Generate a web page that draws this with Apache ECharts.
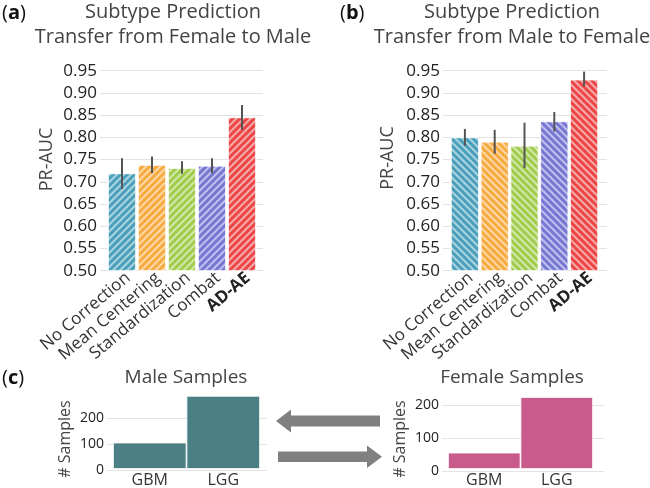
<!DOCTYPE html>
<html><head><meta charset="utf-8">
<script src="https://cdn.jsdelivr.net/npm/echarts@6/dist/echarts.min.js"></script>
<style>html,body{margin:0;padding:0;background:#fff}#c{width:650px;height:488px}</style>
</head><body><div id="c"></div>
<script>
// ---- data ----
const methods = ['No Correction', 'Mean Centering', 'Standardization', 'Combat', 'AD-AE'];
const aucFemaleToMale = [0.719, 0.738, 0.731, 0.736, 0.845];
const lowFemaleToMale = [0.684, 0.719, 0.718, 0.719, 0.817];
const highFemaleToMale = [0.753, 0.757, 0.746, 0.753, 0.873];
const aucMaleToFemale = [0.800, 0.790, 0.781, 0.836, 0.930];
const lowMaleToFemale = [0.781, 0.763, 0.731, 0.813, 0.915];
const highMaleToFemale = [0.819, 0.817, 0.833, 0.857, 0.948];
const subtypes = ['GBM', 'LGG'];
const maleCounts = [103, 285];
const femaleCounts = [51, 224];

// ---- styles ----
const methodColors = ['#4aa0ba', '#f7aa3f', '#a0cc4c', '#7676d4', '#ec4646'];
const FONT = '"Open Sans", "Noto Sans", sans-serif';

const chart = echarts.init(document.getElementById('c'), null, {renderer: 'canvas'});

function hatch(rot) {
  return {symbol: 'rect', symbolSize: 1, dashArrayX: [1, 0], dashArrayY: [1.3, 2.4],
          rotation: rot, color: 'rgba(255,255,255,0.55)'};
}
function barData(vals) {
  return vals.map((v, i) => ({value: v, itemStyle: {color: methodColors[i]}}));
}
function errData(lo, hi) {
  return lo.map((l, i) => [i, l, hi[i]]);
}
const catLabels = methods.map((m, i) => i === methods.length - 1 ?
  {value: m, textStyle: {fontWeight: 'bold', color: '#222'}} : m);

function errSeries(xi, yi, lo, hi) {
  return {type: 'custom', xAxisIndex: xi, yAxisIndex: yi, data: errData(lo, hi),
    encode: {x: 0, y: [1, 2]}, z: 5,
    renderItem: (params, api) => {
      const p1 = api.coord([api.value(0), api.value(1)]);
      const p2 = api.coord([api.value(0), api.value(2)]);
      return {type: 'line', shape: {x1: p1[0], y1: p1[1], x2: p2[0], y2: p2[1]},
              style: {stroke: '#555', lineWidth: 2}};
    }};
}

const topT = 70.7, topB = 488 - 270.7;
const gridLineStyle = {lineStyle: {color: '#e3e3e3', width: 1}};

const grids = [
  {left: 100, right: 387, top: topT, bottom: topB},   // 0 a lines
  {left: 107, right: 393, top: topT, bottom: topB},   // 1 a bars
  {left: 443, right: 43, top: topT, bottom: topB},    // 2 b lines
  {left: 450, right: 51, top: topT, bottom: topB},    // 3 b bars
  {left: 107, right: 383, top: 418, bottom: 18},      // 4 male lines
  {left: 113, right: 390, top: 392, bottom: 18},      // 5 male bars
  {left: 442, right: 46, top: 405, bottom: 17},       // 6 female lines
  {left: 448, right: 57, top: 395.1, bottom: 17},     // 7 female bars
  {left: 113, right: 387, top: topT, bottom: topB},   // 8 a labels
  {left: 456, right: 45, top: topT, bottom: topB}     // 9 b labels
];

function lineY(gi, min, max, interval, fmt, fs) {
  return {gridIndex: gi, type: 'value', min: min, max: max, interval: interval,
    axisLine: {show: false}, axisTick: {show: false},
    axisLabel: {color: '#222', fontSize: fs, fontFamily: FONT, margin: 3, formatter: fmt},
    splitLine: gridLineStyle};
}
function hiddenY(gi, min, max) {
  return {gridIndex: gi, type: 'value', min: min, max: max, show: false, splitLine: {show: false}};
}
function hiddenX(gi, cats) {
  return {gridIndex: gi, type: 'category', data: cats, show: false};
}
function labelX(gi, cats, rot, fs, margin) {
  return {gridIndex: gi, type: 'category', data: cats,
    axisLine: {show: false}, axisTick: {show: false},
    axisLabel: {rotate: rot, color: '#333', fontSize: fs, fontFamily: FONT, margin: margin, interval: 0}};
}

const option = {
  animation: false,
  backgroundColor: '#fff',
  grid: grids,
  xAxis: [
    hiddenX(0, methods), hiddenX(1, methods),
    hiddenX(2, methods), hiddenX(3, methods),
    hiddenX(4, subtypes), labelX(5, subtypes, 0, 16, 3),
    hiddenX(6, subtypes), labelX(7, subtypes, 0, 16, 3),
    labelX(8, catLabels, 40, 17, 5), labelX(9, catLabels, 40, 17, 5)
  ],
  yAxis: [
    lineY(0, 0.5, 0.95, 0.05, v => v.toFixed(2), 17), hiddenY(1, 0.5, 0.95),
    lineY(2, 0.5, 0.95, 0.05, v => v.toFixed(2), 17), hiddenY(3, 0.5, 0.95),
    lineY(4, 0, 200, 100, v => String(v), 14), hiddenY(5, 0, 300),
    lineY(6, 0, 200, 100, v => String(v), 14), hiddenY(7, 0, 230),
    hiddenY(8, 0.5, 0.95), hiddenY(9, 0.5, 0.95)
  ],
  series: [
    {type: 'bar', xAxisIndex: 1, yAxisIndex: 1, data: barData(aucFemaleToMale), barWidth: 28,
     itemStyle: {borderColor: '#fff', borderWidth: 0.6, decal: hatch(-Math.PI / 4)}},
    errSeries(1, 1, lowFemaleToMale, highFemaleToMale),
    {type: 'bar', xAxisIndex: 3, yAxisIndex: 3, data: barData(aucMaleToFemale), barWidth: 28,
     itemStyle: {borderColor: '#fff', borderWidth: 0.6, decal: hatch(Math.PI / 4)}},
    errSeries(3, 3, lowMaleToFemale, highMaleToFemale),
    {type: 'bar', xAxisIndex: 5, yAxisIndex: 5, data: maleCounts, barCategoryGap: 0,
     itemStyle: {color: '#4a7f83', borderColor: '#fff', borderWidth: 0.8}},
    {type: 'bar', xAxisIndex: 7, yAxisIndex: 7, data: femaleCounts, barCategoryGap: 0,
     itemStyle: {color: '#c95b8c', borderColor: '#fff', borderWidth: 0.8}}
  ],
  graphic: [
    {type: 'text', style: {text: 'Subtype Prediction', x: 173, y: 12, textAlign: 'center', textVerticalAlign: 'middle', font: '20px ' + FONT, fill: '#444'}},
    {type: 'text', style: {text: 'Transfer from Female to Male', x: 173, y: 37, textAlign: 'center', textVerticalAlign: 'middle', font: '20px ' + FONT, fill: '#444'}},
    {type: 'text', style: {text: 'Subtype Prediction', x: 512, y: 12, textAlign: 'center', textVerticalAlign: 'middle', font: '20px ' + FONT, fill: '#444'}},
    {type: 'text', style: {text: 'Transfer from Male to Female', x: 512, y: 37, textAlign: 'center', textVerticalAlign: 'middle', font: '20px ' + FONT, fill: '#444'}},
    {type: 'text', x: 2, y: 13.5, style: {text: '{n|(}{b|a}{n|)}', textVerticalAlign: 'middle',
      rich: {n: {fontSize: 20, fontFamily: FONT, fill: '#111'}, b: {fontSize: 20, fontFamily: FONT, fontWeight: 'bold', fill: '#111'}}}},
    {type: 'text', x: 340, y: 13.5, style: {text: '{n|(}{b|b}{n|)}', textVerticalAlign: 'middle',
      rich: {n: {fontSize: 20, fontFamily: FONT, fill: '#111'}, b: {fontSize: 20, fontFamily: FONT, fontWeight: 'bold', fill: '#111'}}}},
    {type: 'text', x: 2, y: 378, style: {text: '{n|(}{b|c}{n|)}', textVerticalAlign: 'middle',
      rich: {n: {fontSize: 20, fontFamily: FONT, fill: '#111'}, b: {fontSize: 20, fontFamily: FONT, fontWeight: 'bold', fill: '#111'}}}},
    {type: 'text', x: 46.7, y: 159.5, rotation: Math.PI / 2, style: {text: 'PR-AUC', textAlign: 'center', textVerticalAlign: 'middle', font: '18px ' + FONT, fill: '#444'}},
    {type: 'text', x: 387.5, y: 158, rotation: Math.PI / 2, style: {text: 'PR-AUC', textAlign: 'center', textVerticalAlign: 'middle', font: '18px ' + FONT, fill: '#444'}},
    {type: 'text', style: {text: 'Male Samples', x: 186, y: 378, textAlign: 'center', textVerticalAlign: 'middle', font: '19px ' + FONT, fill: '#444'}},
    {type: 'text', style: {text: 'Female Samples', x: 512, y: 378, textAlign: 'center', textVerticalAlign: 'middle', font: '19px ' + FONT, fill: '#444'}},
    {type: 'text', x: 65, y: 439, rotation: Math.PI / 2, style: {text: '# Samples', textAlign: 'center', textVerticalAlign: 'middle', font: '16px ' + FONT, fill: '#444'}},
    {type: 'text', x: 400, y: 439, rotation: Math.PI / 2, style: {text: '# Samples', textAlign: 'center', textVerticalAlign: 'middle', font: '16px ' + FONT, fill: '#444'}},
    {type: 'polygon', shape: {points: [[276, 421], [291, 409.5], [291, 415.5], [380, 415.5], [380, 426.5], [291, 426.5], [291, 432.5]]}, style: {fill: '#808080'}},
    {type: 'polygon', shape: {points: [[382, 456.7], [367, 445.5], [367, 451.5], [278, 451.5], [278, 462], [367, 462], [367, 468]]}, style: {fill: '#808080'}}
  ]
};
chart.setOption(option);
</script>
</body></html>
